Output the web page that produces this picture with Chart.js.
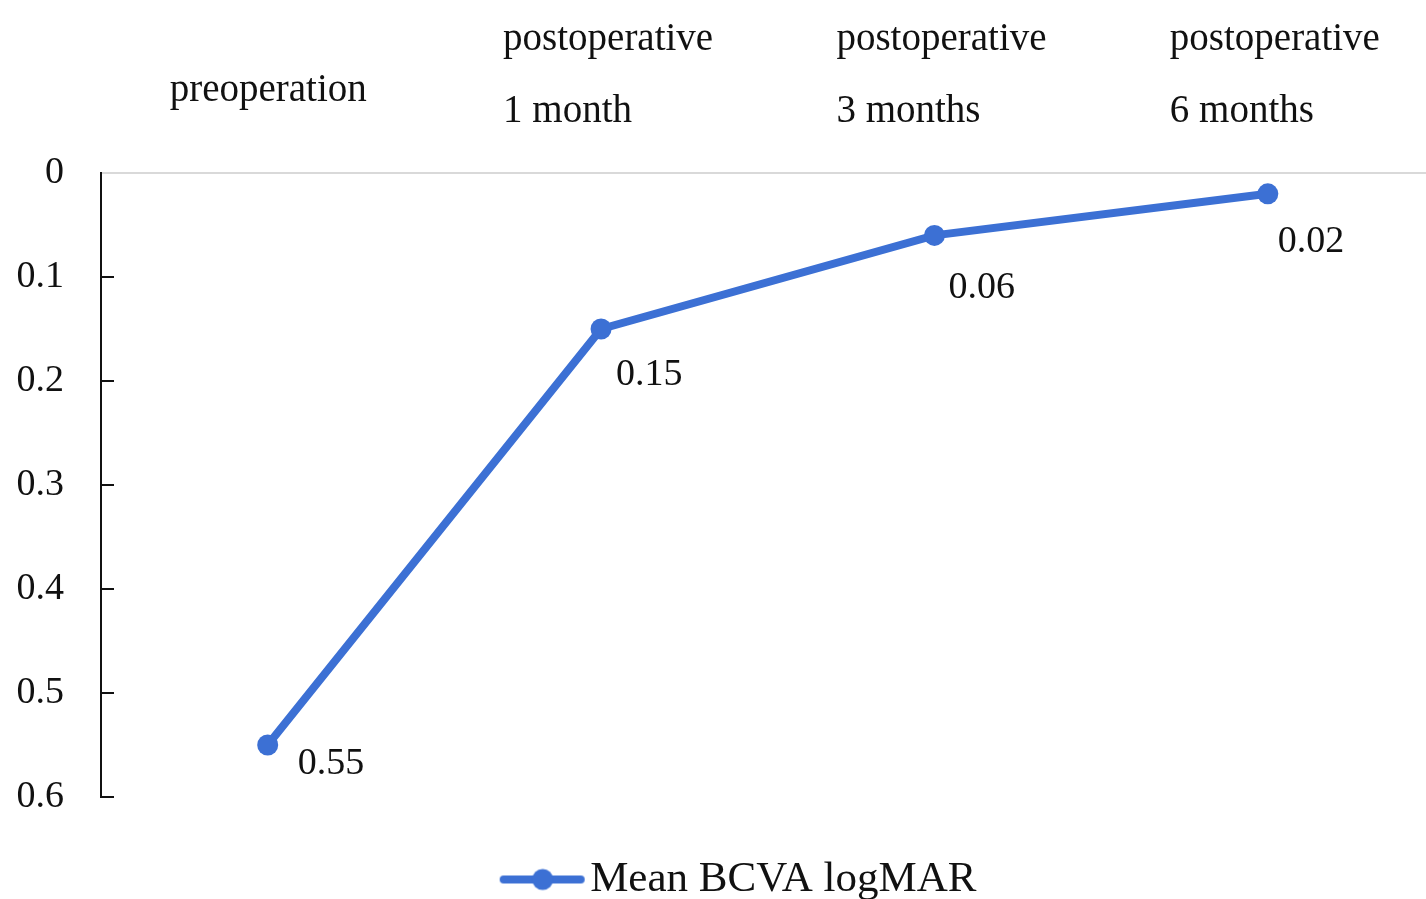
<!DOCTYPE html>
<html><head><meta charset="utf-8">
<script src="https://cdn.jsdelivr.net/npm/chart.js@4/dist/chart.umd.min.js"></script>
<style>
html,body{margin:0;padding:0;background:#fff;overflow:hidden}
#wrap{width:1445px;height:899px;position:relative}
</style>
</head><body><div id="wrap"><canvas id="c"></canvas></div>
<script>
// ---- data ----
const categories = ['preoperation', ['postoperative', '1 month'], ['postoperative', '3 months'], ['postoperative', '6 months']];
const seriesName = 'Mean BCVA logMAR';
const meanBCVA = [0.55, 0.15, 0.06, 0.02];
const yTickValues = [0, 0.1, 0.2, 0.3, 0.4, 0.5, 0.6];

// ---- styles ----
const FONT = '"Liberation Serif", "Times New Roman", serif';
const BLUE = '#3c70d4';
const labelOffsets = [[30, 19], [15, 46], [14, 53], [10, 48]];

// legend marker (line with dot), transparent margin on left
function makeLegendMarker() {
  const c = document.createElement('canvas');
  c.width = 146; c.height = 24;
  const g = c.getContext('2d');
  g.strokeStyle = BLUE; g.lineWidth = 8; g.lineCap = 'round';
  g.beginPath(); g.moveTo(58, 12); g.lineTo(135, 12); g.stroke();
  g.fillStyle = BLUE;
  g.beginPath(); g.arc(97, 12, 10.5, 0, Math.PI * 2); g.fill();
  return c;
}

const innerTicks = {
  id: 'innerTicks',
  afterDraw(chart) {
    const s = chart.scales.y, ctx = chart.ctx;
    ctx.save();
    ctx.strokeStyle = '#111'; ctx.lineWidth = 2;
    s.ticks.forEach((t, i) => {
      if (i === 0) return;
      const y = Math.round(s.getPixelForValue(t.value));
      ctx.beginPath(); ctx.moveTo(s.right - 1, y); ctx.lineTo(s.right + 13, y); ctx.stroke();
    });
    ctx.restore();
  }
};

const valueLabels = {
  id: 'valueLabels',
  afterDatasetsDraw(chart) {
    const ctx = chart.ctx, meta = chart.getDatasetMeta(0);
    ctx.save();
    ctx.font = '38px ' + FONT;
    ctx.fillStyle = '#111';
    ctx.textAlign = 'left'; ctx.textBaseline = 'middle';
    meta.data.forEach((p, i) => {
      const v = chart.data.datasets[0].data[i];
      const o = labelOffsets[i];
      ctx.fillText(String(v), p.x + o[0], p.y + o[1]);
    });
    ctx.restore();
  }
};

new Chart(document.getElementById('c'), {
  type: 'line',
  data: {
    labels: categories,
    datasets: [{
      label: seriesName,
      data: meanBCVA,
      borderColor: BLUE,
      backgroundColor: BLUE,
      borderWidth: 8,
      pointRadius: 10.5,
      pointBorderWidth: 0,
      pointBackgroundColor: BLUE,
      tension: 0,
      fill: false,
      clip: false
    }]
  },
  options: {
    responsive: true,
    maintainAspectRatio: false,
    animation: false,
    devicePixelRatio: 1,
    layout: { padding: { left: 0, right: 0, top: 0, bottom: -12 } },
    plugins: {
      legend: {
        display: true,
        position: 'bottom',
        labels: {
          usePointStyle: true,
          pointStyle: makeLegendMarker(),
          pointStyleWidth: 100,
          padding: 61,
          color: '#111',
          font: { family: FONT, size: 43 }
        }
      },
      tooltip: { enabled: false }
    },
    scales: {
      x: {
        position: 'top',
        offset: true,
        afterFit(s) { s.height = 173; s.paddingLeft = 0; s.paddingRight = 0; },
        grid: { display: false, drawTicks: false },
        border: { display: true, color: '#d9d9d9', width: 2 },
        ticks: {
          autoSkip: false, maxRotation: 0, minRotation: 0,
          align: 'start',
          labelOffset: -98,
          padding: 26,
          color: '#111',
          font: (ctx) => ({ family: FONT, size: 39, lineHeight: ctx.index === 0 ? 2.9 : 1.83 })
        }
      },
      y: {
        reverse: true,
        min: 0, max: 0.6,
        afterFit(s) { s.width = 101; },
        afterBuildTicks(s) { s.ticks = yTickValues.map(v => ({ value: v })); },
        grid: { display: false, drawTicks: false },
        border: { display: true, color: '#111', width: 2 },
        ticks: {
          padding: 37,
          color: '#111',
          font: { family: FONT, size: 38 },
          callback: (v) => String(+(+v).toFixed(1))
        }
      }
    }
  },
  plugins: [innerTicks, valueLabels]
});
</script>
</body></html>
